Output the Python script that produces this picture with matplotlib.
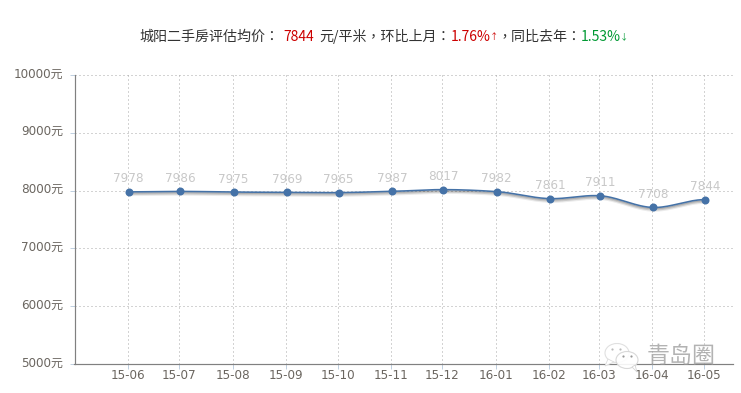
import numpy as np
import matplotlib
matplotlib.use("Agg")
import matplotlib.pyplot as plt
import matplotlib.dates as mdates
import matplotlib.transforms as mtrans
from matplotlib.patches import Ellipse, Polygon
from datetime import datetime

months = ["2015-06","2015-07","2015-08","2015-09","2015-10","2015-11","2015-12",
          "2016-01","2016-02","2016-03","2016-04","2016-05"]
prices = [7978,7986,7975,7969,7965,7987,8017,7982,7861,7911,7708,7844]
y_ticks = [5000,6000,7000,8000,9000,10000]
month_labels = ["15-06","15-07","15-08","15-09","15-10","15-11","15-12",
                "16-01","16-02","16-03","16-04","16-05"]
title_parts = [("城阳二手房评估均价：", "#333333", 139, 14),
               ("7844", "#cc0000", 283, 14),
               ("元/平米，环比上月：", "#333333", 319, 14),
               ("1.76%", "#cc0000", 451, 14),
               ("↑", "#cc0000", 489.5, 8.5),
               ("，同比去年：", "#333333", 497.5, 14),
               ("1.53%", "#009933", 581, 14),
               ("↓", "#009933", 620, 8.5)]

plt.rcParams["font.family"] = ["DejaVu Sans", "Noto Sans CJK SC"]
W, H = 741, 393
fig = plt.figure(figsize=(W/100, H/100), dpi=100, facecolor="white")
ax = fig.add_axes([74.5/W, 1-364/H, (733-74.5)/W, (364-75)/H])
px = lambda n: n*0.72

x = mdates.date2num([datetime.strptime(m, "%Y-%m") for m in months])
y = np.array(prices, dtype=float)
ax.set_xlim(mdates.date2num(datetime(2015,5,1)), mdates.date2num(datetime(2016,5,18)))
ax.set_ylim(5000, 10000)

# smooth curve through the data points (cubic Hermite)
m = np.gradient(y, x)
m[0] = m[-1] = 0
xs, ys = [], []
for i in range(len(x)-1):
    t = np.linspace(0, 1, 30)
    h = x[i+1]-x[i]
    xs.append(x[i]+t*h)
    ys.append((2*t**3-3*t**2+1)*y[i]+(t**3-2*t**2+t)*h*m[i]*0.8
              +(-2*t**3+3*t**2)*y[i+1]+(t**3-t**2)*h*m[i+1]*0.8)
xs, ys = np.concatenate(xs), np.concatenate(ys)

shift = lambda dx, dy: ax.transData + mtrans.Affine2D().translate(dx, dy)
for dy, lw, alpha in [(-3, 2.5, .08), (-2, 2.2, .14), (-1, 1.6, .22)]:
    ax.plot(xs, ys, color="black", lw=px(lw), alpha=alpha, transform=shift(1, dy), zorder=3)
ax.plot(xs, ys, color="#4572A7", lw=px(1.6), transform=shift(1, 0), zorder=4)
ax.plot(x, y, "o", color="#4572A7", ms=px(8), mew=0, transform=shift(1, 0), zorder=5)

for xi, yi in zip(x, y):
    ax.annotate(str(int(yi)), (xi, yi), xytext=(px(1), px(13)), textcoords="offset points",
                ha="center", va="center", fontsize=px(12), color="#c8c8c8", zorder=6)

ax.set_xticks(x)
ax.set_xticklabels(month_labels)
ax.set_yticks(y_ticks)
ax.set_yticklabels([f"{v}元" for v in y_ticks])
ax.tick_params(axis="x", length=px(5), width=px(1), color="#C0D0E0", labelsize=px(12),
               labelcolor="#6b6660", pad=px(0))
ax.tick_params(axis="y", length=px(5), width=px(1), color="#C0D0E0", labelsize=px(12),
               labelcolor="#6b6660", pad=px(6))
for lab in ax.get_yticklabels():
    lab.set_transform(lab.get_transform() + mtrans.Affine2D().translate(0, 2.5))
ax.grid(True, color="#a8a8a8", lw=px(1), linestyle=(0, (1, 3)), zorder=1)
for s in ("top", "right"):
    ax.spines[s].set_visible(False)
for s in ("left", "bottom"):
    ax.spines[s].set_color("#808080")
    ax.spines[s].set_linewidth(px(1.2))

for txt, col, xp, size in title_parts:
    fig.text(xp/W, 1-37/H, txt, color=col, fontsize=px(size), ha="left", va="center",
             family=["Noto Sans CJK TC", "DejaVu Sans"])

# watermark
ov = fig.add_axes([0, 0, 1, 1], facecolor="none")
ov.set_xlim(0, W); ov.set_ylim(H, 0); ov.axis("off")
ov.add_patch(Ellipse((617, 353), 24, 19, fc="white", ec="#dddddd", lw=.8, alpha=.9))
ov.add_patch(Polygon([[608,359],[605,366],[614,362]], fc="white", ec="#dddddd", lw=.6))
ov.add_patch(Ellipse((627, 360), 22, 17, fc="white", ec="#d4d4d4", lw=.8, alpha=.9))
ov.add_patch(Polygon([[632,367],[637,372],[635,365]], fc="white", ec="#d4d4d4", lw=.6))
for cx, cy, c in [(612,349,"#bbbbbb"),(620,349,"#bbbbbb"),(623,356,"#999999"),(631,356,"#999999")]:
    ov.plot(cx, cy, "o", ms=1.6, color=c, mew=0)
ov.text(681, 356, "青岛圈", fontsize=px(23), color="#9a9a9a", alpha=.75, ha="center", va="center",
        family=["Noto Sans CJK SC"])

fig.savefig("out.png", dpi=100, facecolor="white")
